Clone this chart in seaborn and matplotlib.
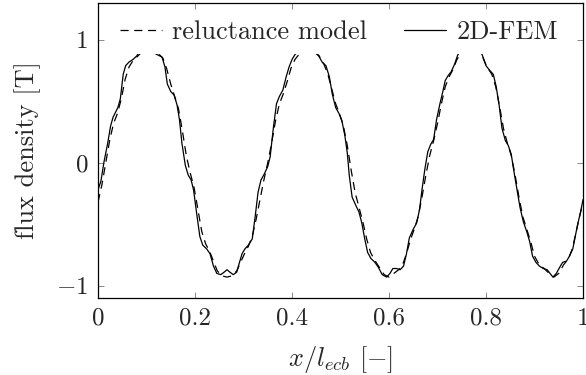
import matplotlib
matplotlib.use("Agg")
import matplotlib.pyplot as plt
import seaborn as sns
import pandas as pd

# 2D-FEM (solid)
fem_x = [0.000, 0.006, 0.012, 0.020, 0.026, 0.031, 0.036, 0.041, 0.046, 0.052, 0.057, 0.064,
         0.072, 0.080, 0.088, 0.100, 0.112, 0.122, 0.132, 0.138, 0.143, 0.150, 0.157, 0.163,
         0.168, 0.173, 0.180, 0.186, 0.192, 0.197, 0.203, 0.210, 0.216, 0.224, 0.231, 0.238,
         0.245, 0.253, 0.260, 0.266, 0.272, 0.279, 0.286, 0.291, 0.297, 0.303, 0.310, 0.318,
         0.324, 0.330, 0.336, 0.343, 0.350,
         0.355, 0.362, 0.368, 0.374, 0.381, 0.388, 0.394, 0.400, 0.406, 0.420, 0.434, 0.446,
         0.455, 0.462, 0.470, 0.477, 0.483, 0.490, 0.497, 0.503, 0.509, 0.514, 0.518, 0.524,
         0.532, 0.538, 0.544, 0.550, 0.556, 0.563, 0.571, 0.578, 0.586, 0.595, 0.602, 0.608,
         0.615, 0.623, 0.630, 0.636, 0.642, 0.650, 0.657, 0.663, 0.668, 0.674, 0.680, 0.686,
         0.692,
         0.698, 0.705, 0.711, 0.716, 0.722, 0.728, 0.735, 0.742, 0.755, 0.770, 0.785, 0.792,
         0.800, 0.808, 0.815, 0.821, 0.827, 0.833, 0.840, 0.846, 0.852, 0.858, 0.864, 0.870,
         0.877, 0.884, 0.890, 0.896, 0.903, 0.910, 0.918, 0.926, 0.932, 0.938, 0.945, 0.952,
         0.958, 0.966, 0.972, 0.979, 0.984, 0.989, 0.995, 1.000]
fem_y = [-0.22, -0.15, 0.00, 0.16, 0.30, 0.37, 0.41, 0.45, 0.52, 0.72, 0.79, 0.82,
         0.84, 0.87, 0.92, 0.95, 0.90, 0.88, 0.86, 0.78, 0.64, 0.58, 0.55, 0.47,
         0.35, 0.16, -0.02, -0.10, -0.14, -0.22, -0.40, -0.60, -0.67, -0.70, -0.74, -0.84,
         -0.90, -0.91, -0.89, -0.87, -0.89, -0.91, -0.89, -0.82, -0.74, -0.70, -0.67, -0.62,
         -0.44, -0.24, -0.14, -0.09, -0.03,
         0.05, 0.30, 0.48, 0.54, 0.59, 0.70, 0.78, 0.84, 0.88, 0.93, 0.95, 0.90,
         0.87, 0.82, 0.79, 0.70, 0.56, 0.45, 0.40, 0.34, 0.22, 0.08, -0.10, -0.28,
         -0.35, -0.40, -0.49, -0.62, -0.73, -0.78, -0.81, -0.85, -0.91, -0.93, -0.90, -0.86,
         -0.86, -0.87, -0.84, -0.74, -0.61, -0.54, -0.49, -0.38, -0.22, -0.05, 0.09, 0.15,
         0.19,
         0.35, 0.48, 0.58, 0.67, 0.71, 0.74, 0.80, 0.88, 0.94, 0.96, 0.93, 0.88,
         0.79, 0.75, 0.72, 0.62, 0.47, 0.28, 0.18, 0.14, 0.07, -0.08, -0.22, -0.36,
         -0.48, -0.56, -0.64, -0.76, -0.81, -0.84, -0.86, -0.87, -0.90, -0.93, -0.90, -0.85,
         -0.81, -0.80, -0.76, -0.70, -0.60, -0.50, -0.40, -0.30]

# reluctance model (dashed)
rel_x = [0.000, 0.008, 0.016, 0.024, 0.032, 0.040, 0.048, 0.056, 0.064, 0.072, 0.080, 0.090,
         0.100, 0.112, 0.124, 0.134, 0.142, 0.150, 0.158, 0.166, 0.174, 0.182, 0.190, 0.198,
         0.206, 0.214, 0.222, 0.230, 0.238, 0.246, 0.256, 0.266, 0.276, 0.286, 0.294, 0.302,
         0.310, 0.318, 0.326, 0.334, 0.342, 0.350, 0.358, 0.366, 0.374, 0.382, 0.390, 0.398,
         0.406, 0.416, 0.432, 0.446, 0.456, 0.466, 0.474, 0.482, 0.490, 0.498, 0.506, 0.514,
         0.522, 0.530, 0.538, 0.546, 0.554, 0.562, 0.570, 0.580, 0.590, 0.600, 0.610, 0.620,
         0.628, 0.636, 0.644, 0.652, 0.660, 0.668, 0.676, 0.684, 0.692, 0.700, 0.708, 0.716,
         0.724, 0.732, 0.740, 0.750, 0.766, 0.782, 0.792, 0.802, 0.812, 0.820, 0.828, 0.836,
         0.844, 0.852, 0.860, 0.868, 0.876, 0.884, 0.892, 0.900, 0.910, 0.920, 0.930, 0.940,
         0.950, 0.960, 0.970, 0.978, 0.986, 0.994, 1.000]
rel_y = [-0.32, -0.18, 0.00, 0.18, 0.32, 0.40, 0.52, 0.68, 0.78, 0.83, 0.86, 0.90,
         0.93, 0.92, 0.89, 0.85, 0.76, 0.64, 0.54, 0.44, 0.26, 0.06, -0.08, -0.20,
         -0.38, -0.56, -0.66, -0.72, -0.80, -0.88, -0.92, -0.93, -0.92, -0.88, -0.81, -0.74,
         -0.68, -0.60, -0.46, -0.30, -0.14, 0.00, 0.16, 0.34, 0.48, 0.56, 0.66, 0.77,
         0.84, 0.89, 0.93, 0.91, 0.87, 0.80, 0.72, 0.60, 0.48, 0.40, 0.30, 0.14,
         -0.06, -0.24, -0.36, -0.48, -0.62, -0.73, -0.79, -0.85, -0.91, -0.93, -0.90, -0.87,
         -0.83, -0.74, -0.63, -0.54, -0.44, -0.28, -0.10, 0.06, 0.18, 0.32, 0.48, 0.62,
         0.70, 0.76, 0.84, 0.90, 0.94, 0.92, 0.87, 0.78, 0.72, 0.62, 0.46, 0.28,
         0.16, 0.06, -0.10, -0.28, -0.44, -0.54, -0.64, -0.76, -0.83, -0.86, -0.90, -0.93,
         -0.90, -0.83, -0.78, -0.70, -0.56, -0.42, -0.32]

x_ticks = [0, 0.2, 0.4, 0.6, 0.8, 1]
x_tick_labels = ["0", "0.2", "0.4", "0.6", "0.8", "1"]
y_ticks = [-1, 0, 1]
y_tick_labels = [r"$-1$", "0", "1"]

sns.set_style("ticks")
plt.rcParams["font.family"] = ["cmr10", "DejaVu Serif"]
plt.rcParams["mathtext.fontset"] = "cm"
plt.rcParams["axes.formatter.use_mathtext"] = True
plt.rcParams["axes.unicode_minus"] = False

FS = 19

fig = plt.figure(figsize=(5.86, 3.75), dpi=100)
ax = fig.add_axes([98 / 586, 77 / 375, 485 / 586, 295 / 375])

df_rel = pd.DataFrame({"x": rel_x, "y": rel_y})
df_fem = pd.DataFrame({"x": fem_x, "y": fem_y})

sns.lineplot(data=df_rel, x="x", y="y", ax=ax, color="black", lw=0.9,
             linestyle=(0, (6.5, 4.5)), label="reluctance model", sort=False)
sns.lineplot(data=df_fem, x="x", y="y", ax=ax, color="black", lw=0.9,
             label="2D-FEM", sort=False)

ax.set_xlim(0, 1)
ax.set_ylim(-1.1, 1.3)
ax.set_xticks(x_ticks)
ax.set_xticklabels(x_tick_labels)
ax.set_yticks(y_ticks)
ax.set_yticklabels(y_tick_labels)
ax.tick_params(direction="in", length=4.5, width=0.6, color="#777777",
               top=True, right=True, labelsize=18)
ax.tick_params(axis="x", pad=7)
ax.tick_params(axis="y", pad=7)
for s in ax.spines.values():
    s.set_linewidth(0.9)
    s.set_color("black")
    s.set_visible(True)

ax.set_xlabel(r"$x/l_{ecb}$ $[-]$", fontsize=FS, labelpad=10)
ax.set_ylabel("flux density [T]", fontsize=FS, labelpad=11)

leg = ax.legend(loc="center", bbox_to_anchor=(0.497, 0.9), ncol=2, fontsize=FS,
                frameon=True, facecolor="white", edgecolor="none", framealpha=1,
                fancybox=False, handlelength=1.6, handletextpad=0.38,
                columnspacing=1.4, borderpad=0.38)

fig.savefig("out.png", dpi=100)
